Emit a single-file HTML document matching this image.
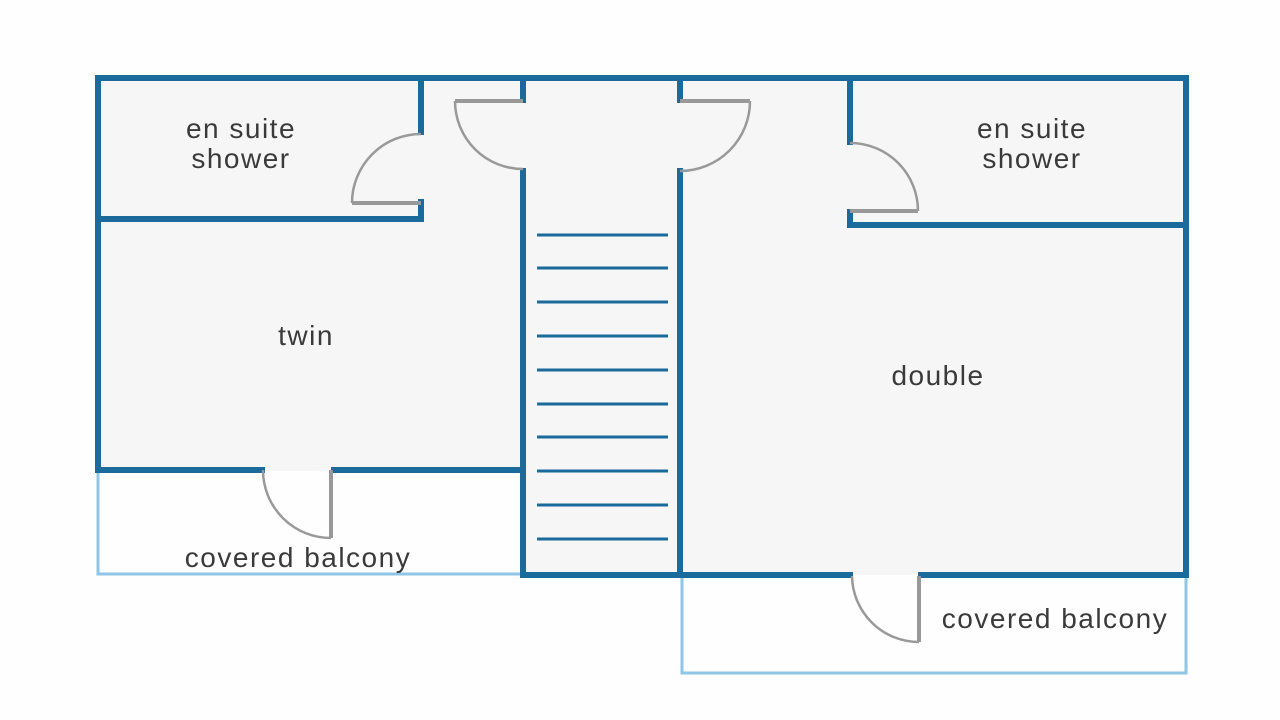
<!DOCTYPE html>
<html><head><meta charset="utf-8"><style>
html,body{margin:0;padding:0;background:#fefefe;}
svg{display:block;}
text{font-family:"Liberation Sans",sans-serif;font-size:28px;letter-spacing:1.5px;fill:#3a3a3a;text-anchor:middle;}
</style></head><body>
<svg width="1280" height="720" viewBox="0 0 1280 720" xmlns="http://www.w3.org/2000/svg">
<rect x="0" y="0" width="1280" height="720" fill="#fefefe"/>
<rect x="98" y="78" width="1088" height="497" fill="#f6f6f6"/>
<rect x="98" y="471" width="424" height="104" fill="#fefefe"/>
<g fill="none" stroke="#8ec6e6" stroke-width="3">
<polyline points="98,470 98,574 521,574"/>
<polyline points="682,576 682,673 1186,673 1186,576"/>
</g>
<g stroke="#1a6a9c" stroke-width="6" fill="none" stroke-linecap="square">
<line x1="98" y1="78" x2="1186" y2="78"/>
<line x1="98" y1="78" x2="98" y2="470"/>
<line x1="1186" y1="78" x2="1186" y2="575"/>
<line x1="98" y1="219" x2="421" y2="219"/>
<line x1="421" y1="78" x2="421" y2="132"/>
<line x1="421" y1="202" x2="421" y2="219"/>
<line x1="98" y1="470" x2="262" y2="470"/>
<line x1="334" y1="470" x2="521" y2="470"/>
<line x1="523" y1="78" x2="523" y2="100"/>
<line x1="523" y1="171" x2="523" y2="575"/>
<line x1="680" y1="78" x2="680" y2="100"/>
<line x1="680" y1="171" x2="680" y2="575"/>
<line x1="523" y1="575" x2="850" y2="575"/>
<line x1="921" y1="575" x2="1186" y2="575"/>
<line x1="850" y1="78" x2="850" y2="142"/>
<line x1="850" y1="212" x2="850" y2="225"/>
<line x1="850" y1="225" x2="1186" y2="225"/>
</g>
<g stroke="#1a6a9c" stroke-width="3">
<line x1="537" y1="235" x2="668" y2="235"/>
<line x1="537" y1="268" x2="668" y2="268"/>
<line x1="537" y1="302" x2="668" y2="302"/>
<line x1="537" y1="336" x2="668" y2="336"/>
<line x1="537" y1="370" x2="668" y2="370"/>
<line x1="537" y1="404" x2="668" y2="404"/>
<line x1="537" y1="437" x2="668" y2="437"/>
<line x1="537" y1="471" x2="668" y2="471"/>
<line x1="537" y1="505" x2="668" y2="505"/>
<line x1="537" y1="539" x2="668" y2="539"/>
</g>
<g stroke="#999" fill="none">
<line x1="352" y1="203" x2="421" y2="203" stroke-width="4"/>
<path d="M352,203 A69,69 0 0 1 421,134" stroke-width="2.5"/>
<line x1="455" y1="101" x2="523" y2="101" stroke-width="4"/>
<path d="M455,101 A68,68 0 0 0 523,169" stroke-width="2.5"/>
<line x1="680" y1="101" x2="750" y2="101" stroke-width="4"/>
<path d="M750,101 A70,70 0 0 1 680,171" stroke-width="2.5"/>
<line x1="850" y1="211" x2="918" y2="211" stroke-width="4"/>
<path d="M850,143 A68,68 0 0 1 918,211" stroke-width="2.5"/>
<line x1="331" y1="470" x2="331" y2="538" stroke-width="4"/>
<path d="M263,470 A68,68 0 0 0 331,538" stroke-width="2.5"/>
<line x1="919" y1="576" x2="919" y2="642" stroke-width="4"/>
<path d="M852,576 A67,67 0 0 0 919,642" stroke-width="2.5"/>
</g>
<text x="241" y="138">en suite</text>
<text x="241" y="168">shower</text>
<text x="1032" y="138">en suite</text>
<text x="1032" y="168">shower</text>
<text x="306" y="345">twin</text>
<text x="938" y="385">double</text>
<text x="298" y="567">covered balcony</text>
<text x="1055" y="628">covered balcony</text>
</svg>
</body></html>
